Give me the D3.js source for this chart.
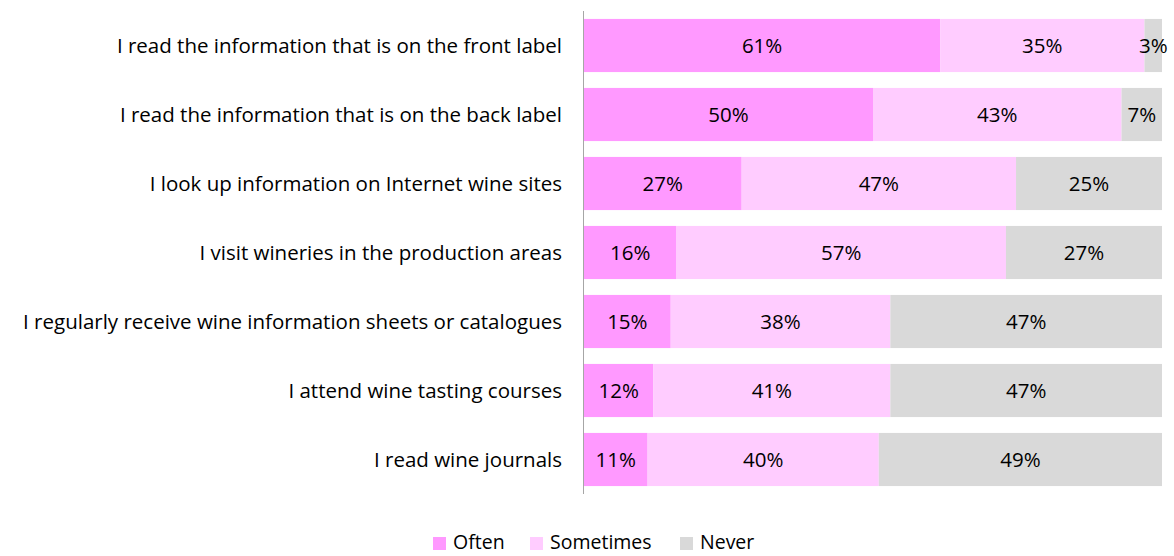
<!DOCTYPE html>
<html>
<head>
<meta charset="utf-8">
<script src="https://cdn.jsdelivr.net/npm/d3@7"></script>
<style>
  body { margin: 0; background: #fff; }
  svg { font-family: "Open Sans", sans-serif; }
</style>
</head>
<body>
<div id="chart"></div>
<script>
// data
const categories = [
  "I read the information that is on the front label",
  "I read the information that is on the back label",
  "I look up information on Internet wine sites",
  "I visit wineries in the production areas",
  "I regularly receive wine information sheets or catalogues",
  "I attend wine tasting courses",
  "I read wine journals"
];
const seriesNames = ["Often", "Sometimes", "Never"];
const often = [61, 50, 27, 16, 15, 12, 11];
const sometimes = [35, 43, 47, 57, 38, 41, 40];
const never = [3, 7, 25, 27, 47, 47, 49];
const colors = ["#ff99ff", "#ffccff", "#d9d9d9"];

const width = 1174, height = 556;
const fs = 20.5;

const svg = d3.select("#chart").append("svg")
  .attr("width", width)
  .attr("height", height);

// build rows, normalise to 100% like a 100% stacked chart
const rows = categories.map((c, i) => {
  const vals = [often[i], sometimes[i], never[i]];
  const total = d3.sum(vals);
  return { cat: c, Often: vals[0] / total, Sometimes: vals[1] / total, Never: vals[2] / total,
           raw: vals };
});

const stack = d3.stack().keys(seriesNames);
const layers = stack(rows);

const x = d3.scaleLinear().domain([0, 1]).range([584, 1162]);
const y = d3.scaleBand().domain(categories).range([11, 494]).paddingInner(0.23).paddingOuter(0.115);

const g = svg.append("g");

layers.forEach((layer, k) => {
  const grp = g.append("g");
  grp.selectAll("rect")
    .data(layer)
    .join("rect")
    .attr("x", d => x(d[0]))
    .attr("y", d => y(d.data.cat))
    .attr("width", d => x(d[1]) - x(d[0]))
    .attr("height", y.bandwidth())
    .attr("fill", colors[k]);

  grp.selectAll("text")
    .data(layer)
    .join("text")
    .attr("x", d => (x(d[0]) + x(d[1])) / 2)
    .attr("y", d => y(d.data.cat) + y.bandwidth() / 2)
    .attr("dy", "0.35em")
    .attr("text-anchor", "middle")
    .attr("font-size", fs)
    .attr("fill", "#000")
    .text(d => d.data.raw[k] + "%");
});

// axis line
svg.append("line")
  .attr("x1", 583.5).attr("x2", 583.5)
  .attr("y1", 11).attr("y2", 494)
  .attr("stroke", "#a6a6a6").attr("stroke-width", 1);

// category labels
svg.append("g").selectAll("text")
  .data(categories)
  .join("text")
  .attr("x", 562)
  .attr("y", d => y(d) + y.bandwidth() / 2)
  .attr("dy", "0.35em")
  .attr("text-anchor", "end")
  .attr("font-size", fs)
  .attr("fill", "#000")
  .text(d => d);

// legend
const legendX = [433, 530, 680];
const legend = svg.append("g");
seriesNames.forEach((s, i) => {
  legend.append("rect")
    .attr("x", legendX[i]).attr("y", 537)
    .attr("width", 13).attr("height", 13)
    .attr("fill", colors[i]);
  legend.append("text")
    .attr("x", legendX[i] + 20).attr("y", 542)
    .attr("dy", "0.35em")
    .attr("font-size", 19.5)
    .text(s);
});
</script>
</body>
</html>
